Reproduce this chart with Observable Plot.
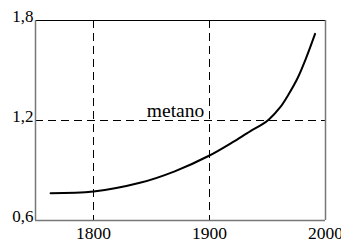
<!DOCTYPE html>
<html><head><meta charset="utf-8">
<script src="https://cdn.jsdelivr.net/npm/d3@7"></script>
<script src="https://cdn.jsdelivr.net/npm/@observablehq/plot@0.6"></script>
<style>
body{margin:0;background:#fff}
</style>
</head><body><div id="chart"></div>
<script>
const years = [1763, 1800, 1840, 1870, 1900, 1920, 1935, 1945, 1951, 1961, 1968, 1976, 1983, 1991];
const values = [0.764, 0.774, 0.826, 0.895, 0.99, 1.07, 1.135, 1.175, 1.205, 1.28, 1.355, 1.455, 1.57, 1.72];
const xTicks = [1800, 1900, 2000];
const yTicks = [0.6, 1.2, 1.8];
const gridX = [1800, 1900];
const gridY = [1.2];
const seriesLabel = "metano";

const data = years.map((y, i) => ({year: y, value: values[i]}));
const fmt = d => String(d.toFixed(1)).replace(".", ",");
const font = "Liberation Serif, Times New Roman, DejaVu Serif, serif";

const chart = Plot.plot({
  width: 341, height: 243,
  marginLeft: 35, marginRight: 16, marginTop: 20, marginBottom: 23,
  style: {fontFamily: font, fontSize: "17px", background: "#fff", overflow: "hidden"},
  x: {domain: [1750, 2000], label: null},
  y: {domain: [0.6, 1.8], axis: null},
  marks: [
    Plot.axisX(xTicks, {tickSize: 0, tickPadding: 6, tickFormat: d => String(d), fontFamily: font, fontSize: 17.5, label: null}),
    Plot.ruleX(gridX, {stroke: "#000", strokeDasharray: "8,5", strokeWidth: 1}),
    Plot.ruleY(gridY, {stroke: "#000", strokeDasharray: "8,5", strokeWidth: 1}),
    Plot.ruleY([1.8], {stroke: "#000", strokeWidth: 1}),
    Plot.ruleY([0.6], {stroke: "#777", strokeWidth: 1.5}),
    Plot.ruleX([1750, 2000], {stroke: "#777", strokeWidth: 1.5}),
    Plot.text(yTicks, {x: 1750, y: d => d, text: fmt, textAnchor: "end", lineAnchor: "bottom", dx: -2, dy: 1, fontSize: 17, fontFamily: font}),
    Plot.text([seriesLabel], {x: 1895.5, y: 1.2, text: d => d, textAnchor: "end", lineAnchor: "bottom", dy: -4, fontSize: 19.5, fontFamily: font}),
    Plot.line(data, {x: "year", y: "value", curve: "catmull-rom", stroke: "#000", strokeWidth: 2})
  ]
});
document.getElementById("chart").appendChild(chart);
</script>
</body></html>
